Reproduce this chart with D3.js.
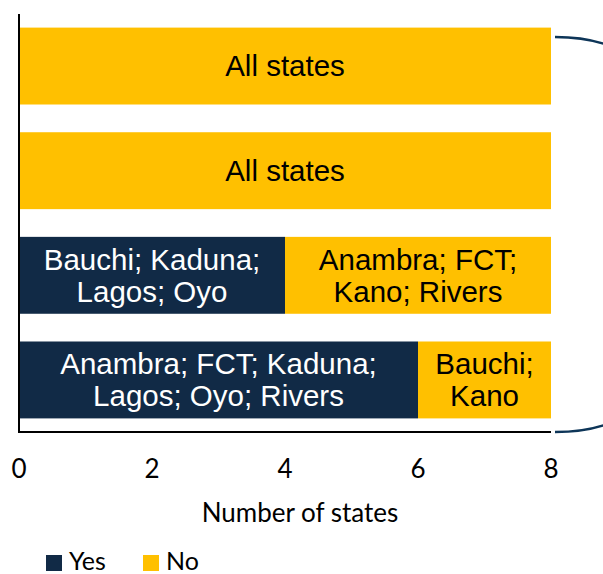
<!DOCTYPE html>
<html>
<head>
<meta charset="utf-8">
<script src="https://cdn.jsdelivr.net/npm/d3@7"></script>
<style>
  body { margin: 0; background: #fff; }
  svg { display: block; }
</style>
</head>
<body>
<div id="chart"></div>
<script>
// chart data, one row per bar (top to bottom)
var rows = ["r1", "r2", "r3", "r4"];
var yesValues = [0, 0, 4, 6];
var noValues = [8, 8, 4, 2];
var yesLabels = ["", "", "Bauchi; Kaduna;|Lagos; Oyo", "Anambra; FCT; Kaduna;|Lagos; Oyo; Rivers"];
var noLabels = ["All states", "All states", "Anambra; FCT;|Kano; Rivers", "Bauchi;|Kano"];
var xTicks = [0, 2, 4, 6, 8];
var seriesNames = ["Yes", "No"];

var width = 603, height = 574;
var colYes = "#112a46", colNo = "#ffc000";

var svg = d3.select("#chart").append("svg")
    .attr("width", width)
    .attr("height", height);

// scales
var x = d3.scaleLinear().domain([0, 8]).range([19, 551]);
var y = d3.scaleBand().domain(rows).range([14, 432])
    .paddingInner(0.265).paddingOuter(0.13);

var table = rows.map(function(r, i){
  return {row: r, Yes: yesValues[i], No: noValues[i], yesLab: yesLabels[i], noLab: noLabels[i]};
});
var stacked = d3.stack().keys(seriesNames)(table);
var colors = {Yes: colYes, No: colNo};

// bars
svg.selectAll("g.series")
    .data(stacked)
  .enter().append("g")
    .attr("class", "series")
    .attr("fill", d => colors[d.key])
  .selectAll("rect")
    .data(d => d.filter(p => p[1] > p[0]))
  .enter().append("rect")
    .attr("x", d => x(d[0]))
    .attr("y", d => y(d.data.row))
    .attr("width", d => x(d[1]) - x(d[0]))
    .attr("height", y.bandwidth());

// labels inside the bars
stacked.forEach(function(s){
  s.forEach(function(p){
    var lab = s.key == "Yes" ? p.data.yesLab : p.data.noLab;
    if (!lab || p[1] <= p[0]) return;
    var lines = lab.split("|");
    var cx = (x(p[0]) + x(p[1])) / 2,
        cy = y(p.data.row) + y.bandwidth() / 2,
        lh = 32;
    var t = svg.append("text")
        .attr("text-anchor", "middle")
        .style("font-family", "'Liberation Sans', Arial, sans-serif")
        .attr("font-size", 29.5)
        .attr("fill", s.key == "Yes" ? "#fff" : "#000");
    lines.forEach(function(l, j){
      t.append("tspan")
          .attr("x", cx)
          .attr("y", cy + (j - (lines.length - 1) / 2) * lh)
          .attr("dy", "0.35em")
          .text(l);
    });
  });
});

// axes lines
svg.append("line")
    .attr("x1", x(0)).attr("x2", x(0))
    .attr("y1", 14).attr("y2", 432)
    .attr("stroke", "#000").attr("stroke-width", 2);
svg.append("line")
    .attr("x1", x(0) - 1).attr("x2", x(8))
    .attr("y1", 432).attr("y2", 432)
    .attr("stroke", "#000").attr("stroke-width", 2);

// x tick labels
svg.selectAll("text.tick")
    .data(xTicks)
  .enter().append("text")
    .attr("class", "tick")
    .attr("x", d => x(d))
    .attr("y", 478)
    .attr("text-anchor", "middle")
    .style("font-family", "Lato, sans-serif")
    .attr("font-size", 26)
    .attr("fill", "#000")
    .text(d => d);

// axis title
svg.append("text")
    .attr("x", 300)
    .attr("y", 522)
    .attr("text-anchor", "middle")
    .style("font-family", "Lato, sans-serif")
    .attr("font-size", 26)
    .attr("fill", "#000")
    .text("Number of states");

// legend
var legend = svg.selectAll("g.legend")
    .data(seriesNames)
  .enter().append("g")
    .attr("class", "legend")
    .attr("transform", (d, i) => "translate(" + (46 + i * 97) + ",555)");
legend.append("rect")
    .attr("width", 16).attr("height", 16)
    .attr("fill", d => colors[d]);
legend.append("text")
    .attr("x", 23)
    .attr("y", 15)
    .style("font-family", "Lato, sans-serif")
    .attr("font-size", 25)
    .attr("fill", "#000")
    .text(d => d);

// bracket on the right side
svg.append("path")
    .attr("d", "M555,37 C575,37 592,39 610,46 M555,432 C575,432 592,430 610,423")
    .attr("fill", "none")
    .attr("stroke", "#0d3558")
    .attr("stroke-width", 2.5);
</script>
</body>
</html>
